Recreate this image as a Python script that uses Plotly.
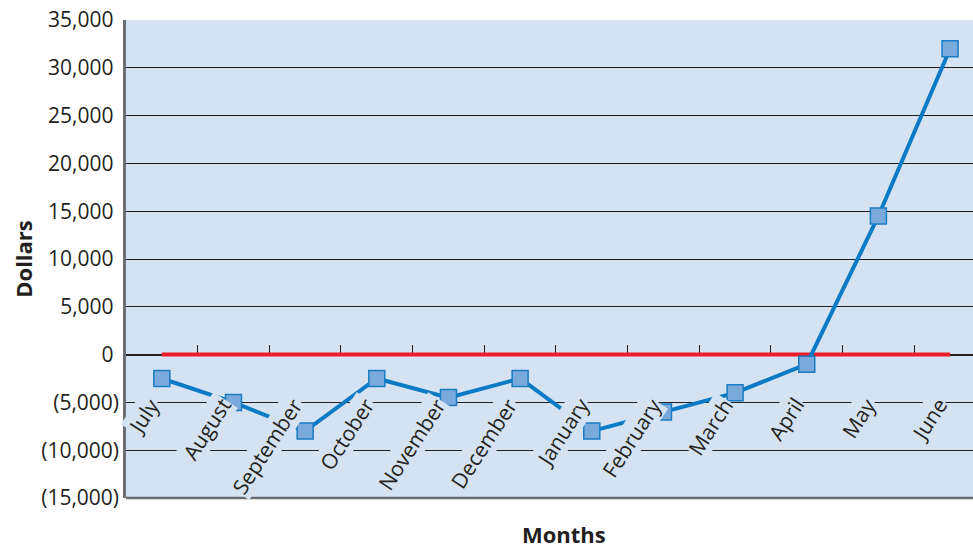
import plotly.graph_objects as go

# data
months = ['July', 'August', 'September', 'October', 'November', 'December',
          'January', 'February', 'March', 'April', 'May', 'June']
dollars = [-2500, -5000, -8000, -2500, -4500, -2500,
           -8000, -6000, -4000, -1000, 14500, 32000]
breakeven = [0] * len(months)

y_ticks = [-15000, -10000, -5000, 0, 5000, 10000, 15000, 20000, 25000, 30000, 35000]
y_ticktext = ['(15,000)', '(10,000)', '(5,000)', '0\u00a0', '5,000\u00a0', '10,000\u00a0',
              '15,000\u00a0', '20,000\u00a0', '25,000\u00a0', '30,000\u00a0', '35,000\u00a0']

FONT = 'Open Sans'
TXT = '#231f20'
BG = '#d5e2f1'

fig = go.Figure()

# red zero line
fig.add_trace(go.Scatter(
    x=months, y=breakeven, mode='lines',
    line=dict(color='#ec1c2a', width=4),
    hoverinfo='skip', showlegend=False
))

# cash flow line
fig.add_trace(go.Scatter(
    x=months, y=dollars, mode='lines+markers',
    line=dict(color='#0a7bc4', width=4),
    marker=dict(symbol='square', size=16, color='#7aaadc',
                line=dict(color='#1a7cc2', width=1.5)),
    showlegend=False
))

# rotated month labels sitting under the zero line, with a bg box
annotations = []
for m in months:
    annotations.append(dict(
        x=m, y=0, xref='x', yref='y',
        text=m, showarrow=False, textangle=-57,
        xanchor='right', yanchor='top',
        xshift=5, yshift=-37,
        bgcolor=BG, borderpad=0,
        font=dict(family=FONT, size=21, color=TXT)
    ))

annotations.append(dict(
    x=0.517, y=-0.075, xref='paper', yref='paper',
    text='<b>Months</b>', showarrow=False,
    xanchor='center', yanchor='middle',
    font=dict(family=FONT, size=22, color=TXT)
))

fig.update_layout(
    width=973, height=549,
    margin=dict(l=126, r=0, t=20, b=51),
    paper_bgcolor='white',
    plot_bgcolor=BG,
    annotations=annotations,
    shapes=[dict(type='line', xref='paper', yref='paper',
                 x0=0, x1=1, y0=0, y1=0,
                 line=dict(color='#6d6e71', width=2.5))],
    xaxis=dict(
        type='category',
        range=[-0.5, 11.32],
        anchor='free', position=0.3,
        layer='below traces',
        showline=True, linecolor='#231f20', linewidth=1.2,
        ticks='inside', tickson='boundaries', ticklen=10,
        tickcolor='#231f20', tickwidth=1.3,
        showticklabels=False, showgrid=False, zeroline=False,
    ),
    yaxis=dict(
        range=[-15000, 35000],
        tickvals=y_ticks, ticktext=y_ticktext,
        tickfont=dict(family=FONT, size=21, color=TXT),
        showgrid=True, gridcolor='#231f20', gridwidth=1.2,
        zeroline=False,
        showline=True, linecolor='#6d6e71', linewidth=2.5,
        ticks='', ticklen=0,
        title=dict(text='<b>Dollars</b>', standoff=3,
                   font=dict(family=FONT, size=22, color=TXT)),
    ),
)

fig.write_html("out.html", config={'displayModeBar': False},
               post_script="document.body.style.margin='0';")
